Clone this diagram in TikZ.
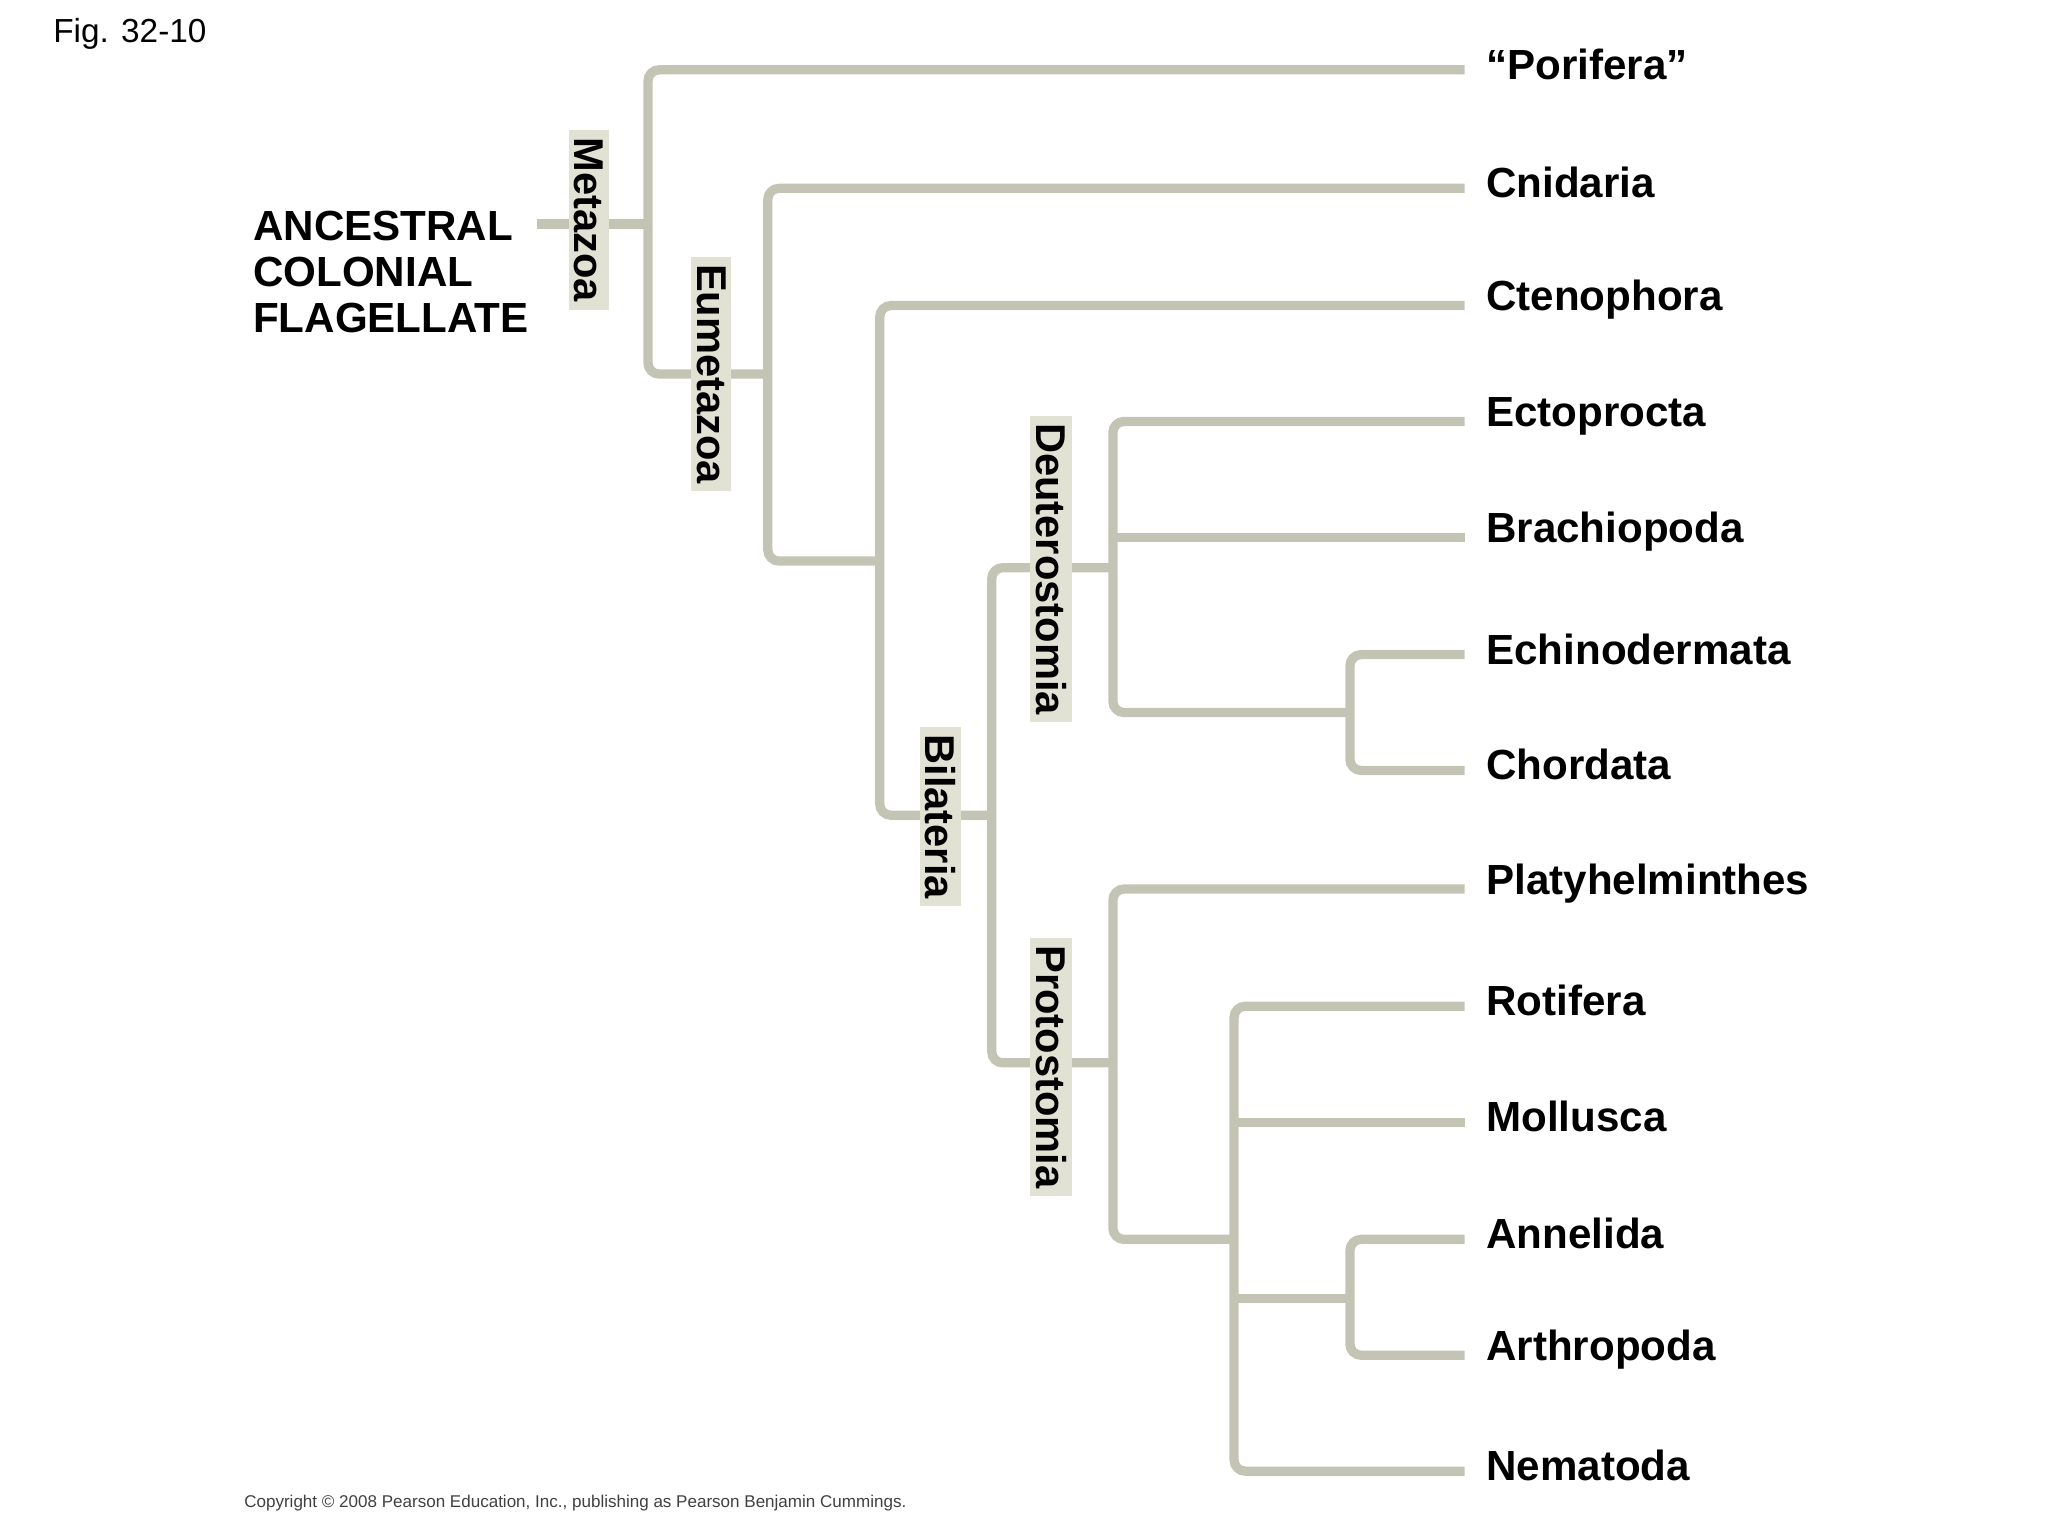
\documentclass[tikz,border=0pt]{standalone}
\usepackage{fontspec}
\setmainfont{Liberation Sans}
\begin{document}
\begin{tikzpicture}[x=0.05cm,y=-0.05cm,
  br/.style={draw=brc,line width=10pt,rounded corners=12pt},
  tip/.style={anchor=west,font=\fontsize{45.5}{52}\selectfont\bfseries},
  clade/.style={fill=boxc,rotate=-90,inner xsep=8pt,inner ysep=6pt,font=\fontsize{45}{52}\selectfont\bfseries}]
\definecolor{brc}{RGB}{196,196,180}
\definecolor{boxc}{RGB}{226,226,212}
\useasboundingbox (0,0) rectangle (1555,1166);
\foreach \n/\y in {por/53,cni/143,cte/232,ect/320,bra/408,ech/497,cho/585,pla/675,rot/764,mol/852,ann/941,art/1029,nem/1117}
  \coordinate (\n) at (1112,\y);
\coordinate (root) at (408,170);
\draw[br] (root) -- (492,170);
\draw[br] (por) -- (492,53) -- (492,284) -- (583,284);
\draw[br] (cni) -- (583,143) -- (583,426) -- (668,426);
\draw[br] (cte) -- (668,232) -- (668,619) -- (753,619);
\draw[br] (845,431) -- (753,431) -- (753,807) -- (845,807);
\draw[br] (ect) -- (845,320) -- (845,541) -- (1025,541);
\draw[br] (bra) -- (845,408);
\draw[br] (ech) -- (1025,497) -- (1025,585) -- (cho);
\draw[br] (pla) -- (845,675) -- (845,941) -- (937,941);
\draw[br] (rot) -- (937,764) -- (937,1117) -- (nem);
\draw[br] (mol) -- (937,852);
\draw[br] (937,986) -- (1025,986);
\draw[br] (ann) -- (1025,941) -- (1025,1029) -- (art);
\node[clade] (lmet) at (447,167) {Metazoa};
\node[clade] (leum) at (540,284) {Eumetazoa};
\node[clade] (lbil) at (714,620) {Bilateria};
\node[clade] (ldeu) at (798,432) {Deuterostomia};
\node[clade] (lpro) at (798,810) {Protostomia};
\foreach \n/\t in {por/{“Porifera”},cni/Cnidaria,cte/Ctenophora,ect/Ectoprocta,bra/Brachiopoda,ech/Echinodermata,cho/Chordata,pla/Platyhelminthes,rot/Rotifera,mol/Mollusca,ann/Annelida,art/Arthropoda,nem/Nematoda}
  \node[tip] (t\n) at ([xshift=20pt,yshift=6pt]\n) {\t};
\node[anchor=east,align=left,font=\fontsize{45.5}{50}\selectfont\bfseries] (anc) at ([xshift=-6pt,yshift=-52pt]root) {ANCESTRAL\\COLONIAL\\FLAGELLATE};
\node[anchor=west,font=\fontsize{36}{40}\selectfont] (fig) at (38,26) {Fig. 32-10};
\node[anchor=west,font=\fontsize{18.4}{20}\selectfont,text=black!75] (copy) at (183,1141) {Copyright © 2008 Pearson Education, Inc., publishing as Pearson Benjamin Cummings.};
\end{tikzpicture}
\end{document}
